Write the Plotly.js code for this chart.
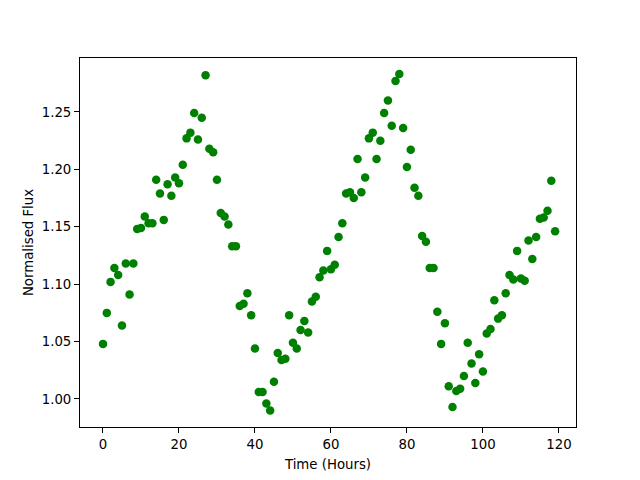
<!DOCTYPE html>
<html>
<head>
<meta charset="utf-8">
<script src="https://cdn.plot.ly/plotly-3.0.1.min.js"></script>
<style>html,body{margin:0;padding:0;background:#fff;}#chart{width:640px;height:480px;}</style>
</head>
<body>
<div id="chart"></div>
<script>
const hours = [];
for (let i = 0; i < 120; i++) hours.push(i);
const flux = [
1.048,1.075,1.102,1.114,1.108,1.064,1.118,1.091,1.118,1.148,
1.149,1.159,1.153,1.153,1.191,1.179,1.156,1.187,1.177,1.193,
1.188,1.204,1.227,1.232,1.249,1.226,1.245,1.282,1.218,1.215,
1.191,1.162,1.159,1.152,1.133,1.133,1.081,1.083,1.092,1.073,
1.044,1.006,1.006,0.996,0.990,1.015,1.040,1.034,1.035,1.073,
1.049,1.044,1.060,1.068,1.058,1.085,1.089,1.106,1.112,1.129,
1.113,1.117,1.141,1.153,1.179,1.180,1.175,1.209,1.180,1.193,
1.227,1.232,1.209,1.225,1.249,1.260,1.238,1.277,1.283,1.236,
1.202,1.217,1.184,1.177,1.142,1.137,1.114,1.114,1.076,1.048,
1.066,1.011,0.993,1.007,1.009,1.020,1.049,1.031,1.014,1.039,
1.024,1.057,1.061,1.086,1.070,1.073,1.092,1.108,1.104,1.129,
1.105,1.103,1.138,1.122,1.141,1.157,1.158,1.164,1.190,1.146
];
const xTicks = [0,20,40,60,80,100,120];
const yTicks = [1.00,1.05,1.10,1.15,1.20,1.25];

const font = {family: 'DejaVu Sans', size: 13.3, color: '#000'};
Plotly.newPlot('chart', [{
  x: hours, y: flux, type: 'scatter', mode: 'markers',
  marker: {color: '#008000', size: 8.5}
}], {
  width: 640, height: 480,
  margin: {l: 80, r: 64, t: 58, b: 53},
  paper_bgcolor: '#fff', plot_bgcolor: '#fff',
  showlegend: false,
  font: font,
  xaxis: {
    range: [-6.05, 124.5], tickvals: xTicks, ticktext: xTicks.map(String),
    showgrid: false, zeroline: false, showline: true, mirror: true,
    linecolor: '#000', linewidth: 1, ticks: 'outside', ticklen: 5, tickwidth: 1, tickcolor: '#000',
    tickfont: font,
    title: {text: 'Time (Hours)', font: font, standoff: 8}
  },
  yaxis: {
    range: [0.9756, 1.297], tickvals: yTicks, ticktext: yTicks.map(v => v.toFixed(2)),
    showgrid: false, zeroline: false, showline: true, mirror: true,
    linecolor: '#000', linewidth: 1, ticks: 'outside', ticklen: 5, tickwidth: 1, tickcolor: '#000',
    tickfont: font,
    title: {text: 'Normalised Flux', font: font, standoff: 5}
  }
}, {displayModeBar: false, staticPlot: true});
</script>
</body>
</html>
